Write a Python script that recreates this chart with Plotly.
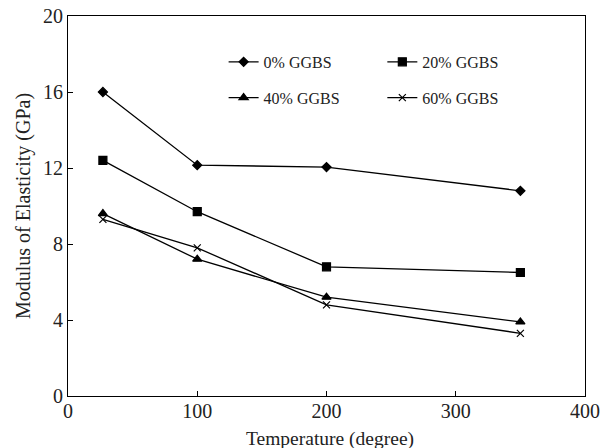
import plotly.graph_objects as go

temperature = [27, 100, 200, 350]
ggbs_0 = [16.0, 12.15, 12.05, 10.8]
ggbs_20 = [12.4, 9.7, 6.8, 6.5]
ggbs_40 = [9.6, 7.2, 5.2, 3.9]
ggbs_60 = [9.3, 7.8, 4.8, 3.3]

series = [
    ("0% GGBS", ggbs_0, "diamond", 7, "legend"),
    ("40% GGBS", ggbs_40, "triangle-up", 8, "legend"),
    ("20% GGBS", ggbs_20, "square", 8, "legend2"),
    ("60% GGBS", ggbs_60, "x-thin", 7, "legend2"),
]

fig = go.Figure()
for name, vals, sym, size, leg in series:
    fig.add_trace(go.Scatter(
        x=temperature, y=vals, mode="lines+markers", name=name,
        legend=leg, legendgroup=name,
        line=dict(color="black", width=1.3),
        marker=dict(symbol=sym, size=size, color="black",
                    line=dict(color="black", width=1.2)),
    ))

font_family = "Liberation Serif, Times New Roman, serif"
legend_common = dict(
    font=dict(family=font_family, size=16, color="#222"),
    bgcolor="rgba(0,0,0,0)", borderwidth=0,
    tracegroupgap=12, yanchor="top", xanchor="left", itemwidth=30,
)
fig.update_layout(
    width=607, height=448,
    margin=dict(l=68, r=22, t=16, b=52),
    paper_bgcolor="white", plot_bgcolor="white",
    font=dict(family=font_family, color="#222"),
    legend=dict(x=0.301, y=0.924, **legend_common),
    legend2=dict(x=0.608, y=0.924, **legend_common),
)
axis_common = dict(
    showgrid=False, zeroline=False, showline=True, mirror=True,
    linecolor="black", linewidth=1.2, ticks="inside", ticklen=5,
    tickcolor="black", automargin=False, ticklabeloverflow="allow",
    tickfont=dict(family=font_family, size=20, color="#222"),
)
fig.update_xaxes(range=[0, 400], tickvals=[0, 100, 200, 300, 400],
                 ticklabelstandoff=-3, **axis_common)
fig.update_yaxes(range=[0, 20], tickvals=[0, 4, 8, 12, 16, 20],
                 title=dict(text="Modulus of Elasticity (GPa)", standoff=6,
                            font=dict(family=font_family, size=20, color="#222")),
                 **axis_common)
fig.add_annotation(
    text="Temperature (degree)", xref="paper", yref="paper",
    x=0.507, y=-0.112, xanchor="center", yanchor="middle", showarrow=False,
    font=dict(family=font_family, size=19.5, color="#222"),
)

fig.write_html("out.html", config={"displayModeBar": False},
               post_script="document.body.style.margin='0';")
